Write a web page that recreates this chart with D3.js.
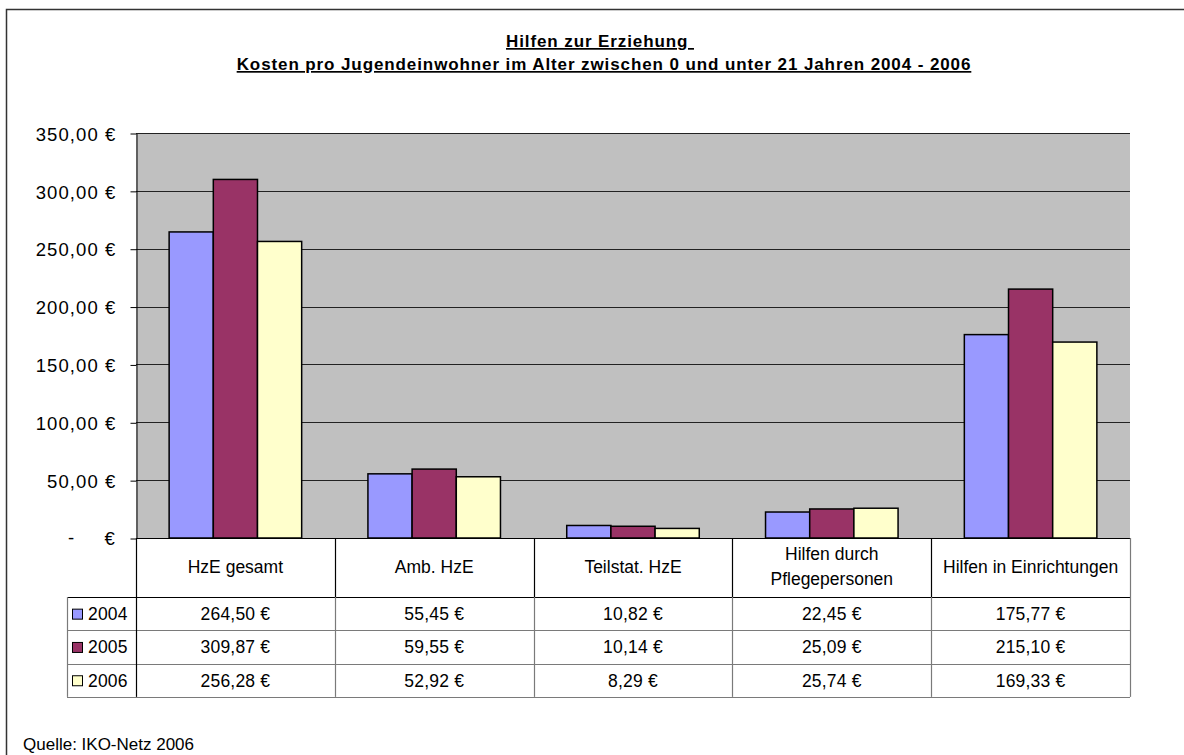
<!DOCTYPE html>
<html>
<head>
<meta charset="utf-8">
<script src="https://cdn.jsdelivr.net/npm/d3@7"></script>
<style>
  body { margin: 0; background: #fff; }
  svg { display: block; font-family: "Liberation Sans", Arial, sans-serif; }
  .tick-label { font-size: 18.5px; letter-spacing: 1.1px; fill: #000; }
  .head { font-size: 17.5px; fill: #000; }
  .cell { font-size: 17.5px; letter-spacing: 0.2px; fill: #000; }
  .note { font-size: 17px; fill: #000; }
  .title { font-size: 17px; font-weight: bold; text-decoration: underline; letter-spacing: 0.9px; }
</style>
</head>
<body>
<svg id="chart"></svg>
<script>
// Data
const categories = ['HzE gesamt', 'Amb. HzE', 'Teilstat. HzE', 'Hilfen durch|Pflegepersonen', 'Hilfen in Einrichtungen'];
const years = ['2004', '2005', '2006'];
const values2004 = [264.50, 55.45, 10.82, 22.45, 175.77];
const values2005 = [309.87, 59.55, 10.14, 25.09, 215.10];
const values2006 = [256.28, 52.92, 8.29, 25.74, 169.33];
const yTicks = [0, 50, 100, 150, 200, 250, 300, 350];
const colors = ['#9999FF', '#993366', '#FFFFCC'];

const series = [values2004, values2005, values2006];

const W = 1184, H = 755;
const plot = { left: 136, right: 1130, top: 133, bottom: 538 };
const headerH = 59, rowH = 33.3;
const legendLeft = 67;

const euro = v => v.toFixed(2).replace('.', ',') + ' €';

const svg = d3.select('#chart').attr('width', W).attr('height', H);

// outer frame
svg.append('rect')
  .attr('x', 6.5).attr('y', 9.5)
  .attr('width', W + 20).attr('height', H + 20)
  .attr('fill', 'none').attr('stroke', '#333').attr('stroke-width', 1.5);

// Title
svg.append('text').attr('class', 'title')
  .attr('x', 600).attr('y', 47).attr('text-anchor', 'middle')
  .attr('xml:space', 'preserve')
  .text('Hilfen zur Erziehung ');
svg.append('text').attr('class', 'title')
  .attr('x', 604).attr('y', 70).attr('text-anchor', 'middle')
  .text('Kosten pro Jugendeinwohner im Alter zwischen 0 und unter 21 Jahren 2004 - 2006');

// Scales
const xScale = d3.scaleBand()
  .domain(d3.range(categories.length))
  .range([plot.left, plot.right])
  .padding(0);

const xInner = d3.scaleBand()
  .domain(d3.range(years.length))
  .range([0, xScale.bandwidth()])
  .paddingInner(0)
  .paddingOuter(0.75);

const yScale = d3.scaleLinear()
  .domain([0, 350])
  .range([plot.bottom, plot.top]);

// Plot background
svg.append('rect')
  .attr('x', plot.left).attr('y', plot.top)
  .attr('width', plot.right - plot.left).attr('height', plot.bottom - plot.top)
  .attr('fill', '#C0C0C0');

// Gridlines
svg.append('g')
  .selectAll('line')
  .data(yTicks.filter(d => d > 0))
  .enter().append('line')
  .attr('x1', plot.left).attr('x2', plot.right)
  .attr('y1', d => Math.round(yScale(d)) + 0.5)
  .attr('y2', d => Math.round(yScale(d)) + 0.5)
  .attr('stroke', '#222').attr('stroke-width', 1);

// Y axis
const yAxis = d3.axisLeft(yScale)
  .tickValues(yTicks)
  .tickSizeInner(6)
  .tickSizeOuter(0)
  .tickPadding(14)
  .tickFormat(d => d === 0 ? '' : euro(d));

const yAxisG = svg.append('g')
  .attr('transform', `translate(${plot.left + 0.5},0.5)`)
  .call(yAxis);
yAxisG.attr('font-family', null).attr('font-size', null);
yAxisG.select('.domain').attr('stroke', '#000');
yAxisG.selectAll('.tick line').attr('stroke', '#000');
yAxisG.selectAll('.tick text')
  .attr('class', 'tick-label')
  .attr('dy', '0.36em');

// zero label in accounting style
svg.append('text').attr('class', 'tick-label')
  .attr('x', 68).attr('y', yScale(0) + 6).text('-');
svg.append('text').attr('class', 'tick-label')
  .attr('x', plot.left - 20).attr('y', yScale(0) + 6.5)
  .attr('text-anchor', 'end').text('€');

// Bars
const groups = svg.append('g')
  .selectAll('g')
  .data(series)
  .enter().append('g')
  .attr('fill', (d, i) => colors[i]);

groups.each(function (vals, si) {
  d3.select(this).selectAll('rect')
    .data(vals)
    .enter().append('rect')
    .attr('x', (d, ci) => xScale(ci) + xInner(si))
    .attr('y', d => yScale(d))
    .attr('width', xInner.bandwidth())
    .attr('height', d => yScale(0) - yScale(d))
    .attr('stroke', '#000')
    .attr('stroke-width', 1.5);
});

// Data table
const table = svg.append('g');
const tableTop = plot.bottom;
const rowTop = i => tableTop + headerH + i * rowH;
const tableBottom = rowTop(years.length);

// category header texts
categories.forEach((c, ci) => {
  const lines = c.split('|');
  const cx = xScale(ci) + xScale.bandwidth() / 2;
  const t = table.append('text').attr('class', 'head')
    .attr('text-anchor', 'middle').attr('x', cx);
  if (lines.length === 1) {
    t.attr('y', tableTop + 35).text(lines[0]);
  } else {
    lines.forEach((l, li) => {
      t.append('tspan').attr('x', cx).attr('y', tableTop + 22 + li * 25).text(l);
    });
  }
});

// data rows
series.forEach((vals, si) => {
  const y = rowTop(si) + rowH / 2 + 6.5;
  vals.forEach((v, ci) => {
    table.append('text').attr('class', 'cell')
      .attr('text-anchor', 'middle')
      .attr('x', xScale(ci) + xScale.bandwidth() / 2)
      .attr('y', y)
      .text(euro(v));
  });
  // legend key
  table.append('rect')
    .attr('x', legendLeft + 5.5).attr('y', rowTop(si) + rowH / 2 - 4.5)
    .attr('width', 10).attr('height', 10)
    .attr('fill', colors[si]).attr('stroke', '#000').attr('stroke-width', 1);
  table.append('text').attr('class', 'cell')
    .attr('x', legendLeft + 21).attr('y', y)
    .text(years[si]);
});

// horizontal row lines (grey)
d3.range(1, years.length + 1).forEach(i => {
  table.append('line')
    .attr('x1', legendLeft).attr('x2', plot.right)
    .attr('y1', Math.round(rowTop(i)) + 0.5).attr('y2', Math.round(rowTop(i)) + 0.5)
    .attr('stroke', '#7a7a7a').attr('stroke-width', 1.2);
});
// header bottom line (black)
table.append('line')
  .attr('x1', legendLeft).attr('x2', plot.right)
  .attr('y1', rowTop(0) + 0.5).attr('y2', rowTop(0) + 0.5)
  .attr('stroke', '#000').attr('stroke-width', 1.2);
// plot baseline
table.append('line')
  .attr('x1', plot.left).attr('x2', plot.right)
  .attr('y1', tableTop + 0.5).attr('y2', tableTop + 0.5)
  .attr('stroke', '#000').attr('stroke-width', 1.2);

// vertical lines
d3.range(categories.length + 1).forEach(ci => {
  const x = Math.round(ci < categories.length ? xScale(ci) : plot.right) + 0.5;
  table.append('line')
    .attr('x1', x).attr('x2', x)
    .attr('y1', tableTop).attr('y2', rowTop(0))
    .attr('stroke', ci === categories.length ? '#7a7a7a' : '#000').attr('stroke-width', 1.2);
  table.append('line')
    .attr('x1', x).attr('x2', x)
    .attr('y1', rowTop(0)).attr('y2', tableBottom)
    .attr('stroke', ci === 0 ? '#000' : '#7a7a7a').attr('stroke-width', 1.2);
});
table.append('line')
  .attr('x1', legendLeft + 0.5).attr('x2', legendLeft + 0.5)
  .attr('y1', rowTop(0)).attr('y2', tableBottom)
  .attr('stroke', '#7a7a7a').attr('stroke-width', 1.2);

// source note
svg.append('text').attr('class', 'note')
  .attr('x', 23).attr('y', 750)
  .text('Quelle: IKO-Netz 2006');
</script>
</body>
</html>
